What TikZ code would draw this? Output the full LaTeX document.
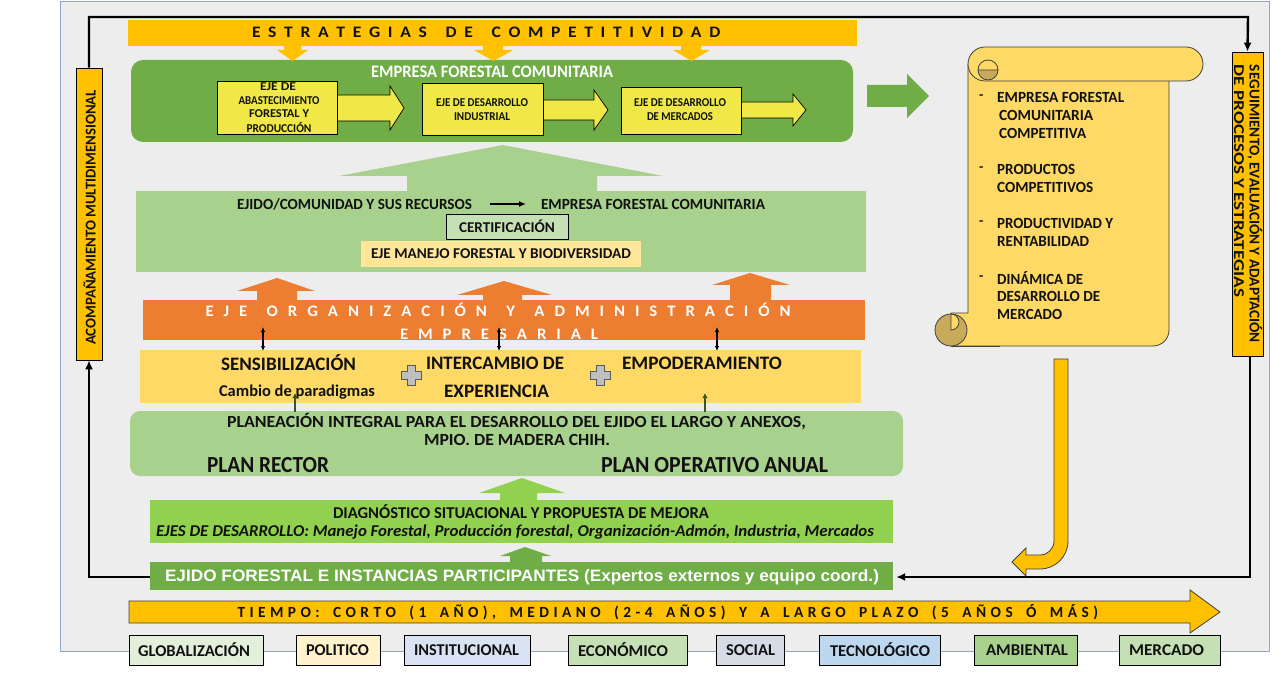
\documentclass[tikz,border=0pt]{standalone}
\usepackage{fontspec}
\setmainfont{Carlito}
\newfontfamily\arialf{Liberation Sans}
\usepackage{graphicx}
\usetikzlibrary{arrows.meta}
\definecolor{panelbg}{HTML}{EDEDED}
\definecolor{panelline}{HTML}{8EA9C8}
\definecolor{gold}{HTML}{FFC000}
\definecolor{dkgreen}{HTML}{70AD47}
\definecolor{ltgreen}{HTML}{A9D18E}
\definecolor{brgreen}{HTML}{92D050}
\definecolor{orng}{HTML}{ED7D31}
\definecolor{yband}{HTML}{FFD966}
\definecolor{ybox}{HTML}{EFE846}
\definecolor{manejo}{HTML}{FFE699}
\definecolor{certc}{HTML}{C5E0B4}
\definecolor{curl}{HTML}{C8AA5A}
\definecolor{txtc}{HTML}{111111}
\definecolor{darrowc}{HTML}{385723}
\definecolor{globc}{HTML}{E2EFDA}
\definecolor{polc}{HTML}{FFF2CC}
\definecolor{instc}{HTML}{DAE3F3}
\definecolor{econc}{HTML}{C5E0B4}
\definecolor{socc}{HTML}{D6DCE5}
\definecolor{tecc}{HTML}{BDD7EE}
\definecolor{ambc}{HTML}{A9D18E}
\definecolor{mercc}{HTML}{C5E0B4}
\newcommand\fsz[1]{\fontsize{#1}{#1}\selectfont}
\newsavebox\ftbox
\newcommand\fitx[2]{\sbox\ftbox{#2}\pgfmathsetmacro\ftr{#1/\the\wd\ftbox}\scalebox{\ftr}[1]{\usebox\ftbox}}
\newdimen\lgap
\newdimen\wgap
\def\spletters#1{\ifx#1\relax\else#1\kern\lgap\expandafter\spletters\fi}
\def\spwords#1 #2\endsp{\spletters#1\relax\ifx\relax#2\relax\else\kern\wgap\spwords#2\endsp\fi}
\tikzset{
  tx/.style={inner sep=0pt, font=\bfseries, text=txtc},
  wtx/.style={inner sep=0pt, font=\bfseries, text=white},
  blk/.style={inner sep=0pt, draw=none},
  outl/.style={draw=black, line width=0.7pt},
  conn/.style={line width=2.4pt, black},
  tipc/.style={-{Latex[length=9pt,width=8pt]}},
  dbl/.style={line width=1.3pt, {Latex[length=5pt,width=4.5pt]}-{Latex[length=5pt,width=4.5pt]}},
  gup/.style={line width=2pt, darrowc, -{Latex[length=5pt,width=5.5pt]}},
  scrollst/.style={fill=yband, draw=black!75, line width=0.8pt},
  curlst/.style={fill=curl, draw=black!75, line width=0.8pt},
  plusst/.style={fill=black!25, draw=black!65, line width=0.8pt},
  bottombox/.style={outl, inner sep=0pt, minimum height=30pt},
  sline/.style={tx, anchor=west},
  plusicon/.pic={\filldraw[plusst] (-4,-10) -- (4,-10) -- (4,-4) -- (10,-4) -- (10,4) -- (4,4) -- (4,10) -- (-4,10) -- (-4,4) -- (-10,4) -- (-10,-4) -- (-4,-4) -- cycle;}
}
\begin{document}
\begin{tikzpicture}[x=1pt,y=-1pt]
\useasboundingbox (0,0) rectangle (1285,676);
\fill[white] (0,0) rectangle (1285,676);
\filldraw[fill=panelbg, draw=panelline, line width=1pt] (60,2) rectangle (1269,651);

% ---------- top strategies bar ----------
\node[blk, fill=gold, minimum width=729pt, minimum height=26pt] (estr) at (492.5,33) {};
\node[tx] (t-estr) at (490,32.5) {\fitx{476}{\fsz{16}\lgap=7pt\wgap=10pt\spwords ESTRATEGIAS DE COMPETITIVIDAD \endsp}};

% ---------- empresa box ----------
\node[blk, fill=dkgreen, rounded corners=12pt, minimum width=722pt, minimum height=82pt] (emp) at (492,101) {};
\fill[gold] (284,46) -- (301,46) -- (301,50) -- (308,50) -- (292.5,61) -- (277,50) -- (284,50) -- cycle;
\fill[gold] (483,46) -- (503,46) -- (503,50) -- (513,50) -- (493.5,61) -- (474,50) -- (483,50) -- cycle;
\fill[gold] (681,46) -- (701,46) -- (701,50) -- (710,50) -- (691.5,61) -- (673,50) -- (681,50) -- cycle;
\node[wtx] (t-emp) at (492,72) {\fitx{242}{\fsz{17.5}EMPRESA FORESTAL COMUNITARIA}};

\filldraw[fill=ybox, outl] (330,95) -- (390,95) -- (390,86) -- (404,108) -- (390,130) -- (390,121) -- (330,121) -- cycle;
\filldraw[fill=ybox, outl] (535,100) -- (594,100) -- (594,90) -- (608,110) -- (594,130) -- (594,120) -- (535,120) -- cycle;
\filldraw[fill=ybox, outl] (735,102) -- (793,102) -- (793,94) -- (806,110) -- (793,126) -- (793,118) -- (735,118) -- cycle;
\node[blk, fill=ybox, outl, minimum width=120pt, minimum height=53pt] (b1) at (277,107.5) {};
\node[blk, fill=ybox, outl, minimum width=121pt, minimum height=52pt] (b2) at (482.5,109) {};
\node[blk, fill=ybox, outl, minimum width=120pt, minimum height=47pt] (b3) at (681,110.5) {};
\node[tx] (b1a) at (278,87) {\fitx{36}{\fsz{12}EJE DE}};
\node[tx] (b1b) at (279,100.5) {\fitx{81}{\fsz{12}ABASTECIMIENTO}};
\node[tx] (b1c) at (279,114) {\fitx{60}{\fsz{12}FORESTAL Y}};
\node[tx] (b1d) at (279,127.5) {\fitx{65}{\fsz{12}PRODUCCIÓN}};
\node[tx] (b2a) at (482,103) {\fitx{92}{\fsz{12}EJE DE DESARROLLO}};
\node[tx] (b2b) at (482,117) {\fitx{56}{\fsz{12}INDUSTRIAL}};
\node[tx] (b3a) at (680,103) {\fitx{92}{\fsz{12}EJE DE DESARROLLO}};
\node[tx] (b3b) at (680,117) {\fitx{66}{\fsz{12}DE MERCADOS}};

% right green arrow
\fill[dkgreen] (867,85) -- (907,85) -- (907,74) -- (929,96) -- (907,118) -- (907,107) -- (867,107) -- cycle;

% ---------- light green section ----------
\fill[ltgreen] (503,145) -- (663,176) -- (597,176) -- (597,192) -- (407,192) -- (407,176) -- (339,176) -- cycle;
\node[blk, fill=ltgreen, minimum width=730pt, minimum height=81pt] (lg) at (501,231.5) {};
\node[tx] (t-ejido1) at (354.5,204) {\fitx{235}{\fsz{15.5}EJIDO/COMUNIDAD Y SUS RECURSOS}};
\node[tx] (t-emp2) at (653,204) {\fitx{224}{\fsz{15.5}EMPRESA FORESTAL COMUNITARIA}};
\coordinate (ea) at (490,204);
\coordinate (eb) at (526,204);
\draw[line width=2pt, -{Latex[length=7pt,width=6pt]}] (ea) -- (eb);
\node[blk, fill=certc, outl, minimum width=122pt, minimum height=25pt] (cert) at (507,226.5) {};
\node[tx] (t-cert) at (507,226.5) {\fitx{96}{\fsz{15}CERTIFICACIÓN}};
\node[blk, fill=manejo, minimum width=280pt, minimum height=26pt] (man) at (501,254) {};
\node[tx] (t-man) at (501,254) {\fitx{260}{\fsz{15}EJE MANEJO FORESTAL Y BIODIVERSIDAD}};

% ---------- orange section ----------
\fill[orng] (277,278) -- (315,291) -- (297,291) -- (297,301) -- (257,301) -- (257,291) -- (237,291) -- cycle;
\fill[orng] (504,281) -- (552,295) -- (522,295) -- (522,301) -- (483,301) -- (483,295) -- (457,295) -- cycle;
\fill[orng] (750,273) -- (790,285) -- (771,285) -- (771,301) -- (730,301) -- (730,285) -- (712,285) -- cycle;
\node[blk, fill=orng, minimum width=722pt, minimum height=40pt] (org) at (504,320) {};
\node[wtx] (t-org1) at (503,309.5) {\fitx{595}{\fsz{16}\lgap=9.5pt\wgap=9pt\spwords EJE ORGANIZACIÓN Y ADMINISTRACIÓN \endsp}};
\node[wtx] (t-org2) at (504,334) {\fitx{208}{\fsz{16}\lgap=9.5pt\wgap=9pt\spwords EMPRESARIAL \endsp}};

% ---------- yellow band ----------
\node[blk, fill=yband, minimum width=721pt, minimum height=53pt] (yb) at (500.5,376.5) {};
\draw[dbl] (263,327) -- (263,351);
\draw[dbl] (499,327) -- (499,351);
\draw[dbl] (717,327) -- (717,351);
\node[tx] (t-sens) at (288.5,363) {\fitx{135}{\fsz{19}SENSIBILIZACIÓN}};
\node[tx] (t-camb) at (297,392) {\fitx{156}{\fsz{16.5}Cambio de paradigmas}};
\node[tx] (t-int1) at (495,363) {\fitx{138}{\fsz{19}INTERCAMBIO DE}};
\node[tx] (t-int2) at (496.5,391) {\fitx{105}{\fsz{19}EXPERIENCIA}};
\node[tx] (t-emp3) at (702,363) {\fitx{160}{\fsz{19}EMPODERAMIENTO}};
\pic at (411,375) {plusicon};
\pic at (600,375) {plusicon};

% ---------- planeacion ----------
\node[blk, fill=ltgreen, rounded corners=10pt, minimum width=773pt, minimum height=65pt] (plan) at (516.5,443.5) {};
\draw[gup] (295,412) -- (295,393);
\draw[gup] (705,412) -- (705,393);
\node[tx] (t-pl1) at (516.5,422) {\fitx{579}{\fsz{17}PLANEACIÓN INTEGRAL PARA EL DESARROLLO DEL EJIDO EL LARGO Y ANEXOS,}};
\node[tx] (t-pl2) at (517,440) {\fitx{186}{\fsz{17}MPIO. DE MADERA CHIH.}};
\node[tx] (t-pr) at (268,465) {\fitx{122}{\fsz{23}PLAN RECTOR}};
\node[tx] (t-poa) at (714.5,465) {\fitx{227}{\fsz{23}PLAN OPERATIVO ANUAL}};

% ---------- diagnostico ----------
\fill[brgreen] (522,478) -- (565,493) -- (537,493) -- (537,501) -- (500,501) -- (500,493) -- (479,493) -- cycle;
\node[blk, fill=brgreen, minimum width=743pt, minimum height=43pt] (diag) at (521.5,521.5) {};
\node[tx] (t-dg1) at (521,512) {\fitx{376}{\fsz{16.5}DIAGNÓSTICO SITUACIONAL Y PROPUESTA DE MEJORA}};
\node[tx] (t-dg2) at (515,532) {\fitx{718}{\fsz{16.5}\itshape EJES DE DESARROLLO: Manejo Forestal, Producción forestal, Organización-Admón, Industria, Mercados}};

% ---------- ejido ----------
\fill[dkgreen] (525,547) -- (551,556) -- (542,556) -- (542,563) -- (510,563) -- (510,556) -- (500,556) -- cycle;
\node[blk, fill=dkgreen, minimum width=743pt, minimum height=28pt] (ejido) at (521.5,576) {};
\node[wtx] (t-ejido) at (522,577) {\fitx{714}{\arialf\bfseries\fsz{16.5}EJIDO FORESTAL E INSTANCIAS PARTICIPANTES (Expertos externos y equipo coord.)}};

% ---------- side boxes ----------
\node[blk, fill=gold, outl, minimum width=26pt, minimum height=292pt] (acomp) at (89,214) {};
\node[tx, rotate=90] (t-acomp) at (89.5,217.5) {\fitx{255}{\fsz{15}ACOMPAÑAMIENTO MULTIDIMENSIONAL}};
\node[blk, fill=gold, outl, minimum width=31pt, minimum height=304pt] (seg) at (1247.5,204) {};
\node[tx, rotate=-90] (t-seg1) at (1255,204) {\fitx{278}{\fsz{15}SEGUIMIENTO, EVALUACIÓN Y ADAPTACIÓN}};
\node[tx, rotate=-90] (t-seg2) at (1239,181) {\fitx{232}{\fsz{15}DE PROCESOS Y ESTRATEGIAS}};

% ---------- connectors ----------
\coordinate (tl) at (89,17);
\coordinate (tr) at (1248,17);
\coordinate (bl) at (89,577);
\coordinate (br) at (1250,577);
\draw[conn, tipc] (acomp.north) -- (tl) -- (tr) -- (seg.north);
\draw[conn, tipc] (ejido.west |- bl) -- (bl) -- (acomp.south);
\draw[conn, tipc, shorten >=3pt] (seg.south -| br) -- (br) -- (ejido.east |- br);

% ---------- scroll ----------
\draw[scrollst] (968,64) -- (1169,64) [rounded corners=16pt] -- (1169,346) [sharp corners] -- (951,346) -- (951,313) -- (968,313) -- cycle;
\draw[scrollst] (985,47) -- (1186,47) .. controls (1195.4,47) and (1203,54.6) .. (1203,64) .. controls (1203,73.4) and (1195.4,81) .. (1186,81) -- (985,81) .. controls (975.6,81) and (968,73.4) .. (968,64) .. controls (968,54.6) and (975.6,47) .. (985,47) -- cycle;
\filldraw[curlst] (978,70) .. controls (978,75.5) and (982.5,80) .. (988,80) .. controls (993.5,80) and (998,75.5) .. (998,70) -- cycle;
\draw[black!75, line width=0.8pt] (978,70) .. controls (978,64.5) and (982.5,60) .. (988,60) .. controls (993.5,60) and (998,64.5) .. (998,70);
\draw[curlst] (951,330) circle[radius=16];
\filldraw[scrollst] (951,314) .. controls (955.4,314) and (959,317.6) .. (959,322) .. controls (959,326.4) and (955.4,330) .. (951,330) -- cycle;
\draw[black!75, line width=0.8pt] (951,346) -- (1000,346);
\node[sline] (s0a) at (979,97) {\fsz{14}-};
\node[sline] (s1a) at (997,97) {\fitx{127}{\fsz{15.5}EMPRESA FORESTAL}};
\node[sline] (s1b) at (999,115) {\fitx{94}{\fsz{15.5}COMUNITARIA}};
\node[sline] (s1c) at (999,133) {\fitx{87}{\fsz{15.5}COMPETITIVA}};
\node[sline] (s0b) at (979,169) {\fsz{14}-};
\node[sline] (s2a) at (997,169) {\fitx{78}{\fsz{15.5}PRODUCTOS}};
\node[sline] (s2b) at (997,187) {\fitx{96}{\fsz{15.5}COMPETITIVOS}};
\node[sline] (s0c) at (979,223) {\fsz{14}-};
\node[sline] (s3a) at (997,223) {\fitx{116}{\fsz{15.5}PRODUCTIVIDAD Y}};
\node[sline] (s3b) at (997,241) {\fitx{92}{\fsz{15.5}RENTABILIDAD}};
\node[sline] (s0d) at (979,278) {\fsz{14}-};
\node[sline] (s4a) at (997,278) {\fitx{86}{\fsz{15.5}DINÁMICA DE}};
\node[sline] (s4b) at (997,296) {\fitx{103}{\fsz{15.5}DESARROLLO DE}};
\node[sline] (s4c) at (997,314) {\fitx{65}{\fsz{15.5}MERCADO}};

% J arrow
\filldraw[fill=gold, draw=black!75, line width=0.8pt] (1054,359) -- (1068,359) -- (1068,541) .. controls (1068,556.5) and (1055.5,569) .. (1040,569) -- (1026,569) -- (1026,576) -- (1012,562) -- (1026,548) -- (1026,555) -- (1040,555) .. controls (1047.7,555) and (1054,548.7) .. (1054,541) -- cycle;

% ---------- time arrow ----------
\filldraw[fill=gold, draw=black!75, line width=0.8pt] (129,601) -- (1190,601) -- (1190,590) -- (1220,612) -- (1190,633) -- (1190,623) -- (129,623) -- cycle;
\node[tx] (t-time) at (670,612) {\fitx{865}{\fsz{15.5}\lgap=4.5pt\wgap=9pt\spwords TIEMPO: CORTO (1 AÑO), MEDIANO (2-4 AÑOS) Y A LARGO PLAZO (5 AÑOS Ó MÁS) \endsp}};

% ---------- bottom boxes ----------
\node[bottombox, fill=globc, minimum width=134pt] (glob) at (196,650) {};
\node[bottombox, fill=polc, minimum width=84pt] (pol) at (338,650) {};
\node[bottombox, fill=instc, minimum width=126pt] (inst) at (467,650) {};
\node[bottombox, fill=econc, minimum width=119pt] (econ) at (627.5,650) {};
\node[bottombox, fill=socc, minimum width=68pt] (soc) at (750,650) {};
\node[bottombox, fill=tecc, minimum width=121pt] (tec) at (879.5,650) {};
\node[bottombox, fill=ambc, minimum width=103pt] (amb) at (1025.5,650) {};
\node[bottombox, fill=mercc, minimum width=101pt] (merc) at (1169.5,650) {};
\node[tx] (l-glob) at (194,650) {\fitx{112}{\fsz{16.5}GLOBALIZACIÓN}};
\node[tx] (l-pol) at (337.5,650) {\fitx{63}{\fsz{16.5}POLITICO}};
\node[tx] (l-inst) at (466.5,650) {\fitx{105}{\fsz{16.5}INSTITUCIONAL}};
\node[tx] (l-econ) at (623,650) {\fitx{90}{\fsz{16.5}ECONÓMICO}};
\node[tx] (l-soc) at (750.5,650) {\fitx{49}{\fsz{16.5}SOCIAL}};
\node[tx] (l-tec) at (880,650) {\fitx{100}{\fsz{16.5}TECNOLÓGICO}};
\node[tx] (l-amb) at (1027,650) {\fitx{82}{\fsz{16.5}AMBIENTAL}};
\node[tx] (l-merc) at (1166.5,650) {\fitx{75}{\fsz{16.5}MERCADO}};
\end{tikzpicture}
\end{document}
